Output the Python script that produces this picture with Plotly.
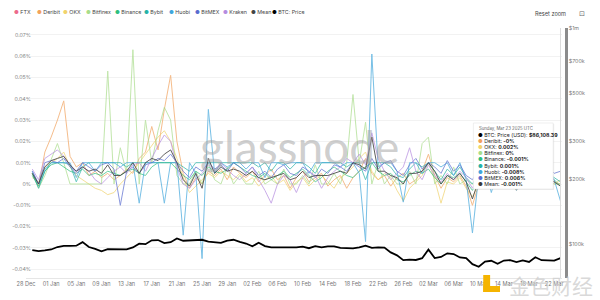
import plotly.graph_objects as go
import pandas as pd

# ---------------- data ----------------
dates = pd.date_range("2024-12-29", "2025-03-23", freq="D")

btc_price = [93.7, 92.8, 93.4, 94.4, 96.9, 98.1, 98.2, 98.3, 102.1, 96.9,
             95.0, 92.5, 94.7, 94.5, 94.5, 94.5, 96.5, 100.5, 99.9, 104.1,
             104.4, 101.1, 102.0, 106.1, 103.6, 103.9, 104.8, 104.7, 102.6, 102.0,
             101.3, 103.7, 104.7, 102.4, 100.6, 97.7, 101.4, 97.9, 96.6, 96.6,
             96.5, 96.5, 96.5, 97.4, 95.7, 97.9, 96.6, 97.5, 97.6, 96.1,
             95.8, 95.5, 96.6, 98.3, 96.1, 96.6, 96.3, 91.5, 88.7, 84.3,
             84.7, 84.4, 86.0, 94.3, 86.1, 87.2, 90.6, 89.9, 86.7, 86.2,
             80.7, 78.5, 82.9, 83.7, 81.1, 83.9, 84.3, 82.6, 84.1, 82.7,
             86.9, 84.2, 84.0, 83.8, 86.1]  # thousands USD

ftx = []  # no data in the window

deribit = [0.005, -0.001, 0.015, 0.022, 0.030, 0.039, 0.013, 0.008, 0.010, 0.004,
           0.006, 0.003, 0.005, 0.002, 0.004, 0.007, 0.005, 0.012, 0.015, 0.027,
           0.016, 0.035, 0.051, 0.020, 0.005, -0.002, 0.003, 0.000, 0.006, 0.004,
           0.007, 0.002, 0.008, 0.005, 0.003, 0.006, 0.001, 0.004, 0.007, 0.002,
           0.004, -0.002, 0.003, 0.006, 0.001, 0.003, 0.005, -0.001, 0.002, 0.004,
           -0.002, 0.003, 0.006, 0.012, 0.005, 0.002, 0.004, -0.001, 0.003, 0.005,
           0.000, 0.002, 0.006, 0.014, 0.004, -0.002, 0.003, 0.001, 0.004, -0.001,
           -0.010, 0.000, 0.003, -0.002, 0.001, 0.004, 0.000, -0.003, 0.002, 0.001,
           0.003, -0.001, 0.002, 0.001, 0.000]

okx = [0.003, 0.001, 0.008, 0.010, 0.012, 0.015, 0.008, 0.004, 0.002, 0.000,
       -0.002, -0.003, -0.005, -0.004, 0.000, 0.003, 0.006, 0.010, 0.014, 0.018,
       0.022, 0.025, 0.020, 0.012, 0.003, -0.004, -0.001, 0.002, 0.005, 0.003,
       0.006, 0.004, 0.002, 0.005, 0.001, 0.003, -0.001, 0.002, 0.004, 0.000,
       0.002, -0.003, 0.001, 0.003, -0.001, 0.002, 0.004, 0.001, -0.002, 0.003,
       0.005, 0.008, 0.012, 0.015, 0.006, 0.002, 0.005, 0.003, -0.003, -0.008,
       -0.002, 0.001, 0.004, 0.010, 0.002, -0.009, 0.001, 0.000, 0.003, -0.002,
       -0.006, 0.000, 0.002, -0.002, 0.000, 0.003, 0.001, -0.002, 0.001, 0.000,
       0.002, 0.000, 0.001, 0.000, 0.002]

bitfinex = [0.005, -0.002, 0.004, 0.012, 0.019, 0.010, 0.000, 0.000, 0.000, 0.000,
            0.000, 0.000, 0.053, 0.000, 0.017, 0.005, 0.063, 0.000, 0.030, 0.010,
            0.025, 0.036, 0.030, 0.004, 0.000, 0.000, 0.006, 0.000, 0.010, 0.002,
            0.000, 0.008, 0.000, 0.004, 0.000, 0.000, 0.006, 0.000, 0.002, 0.000,
            0.007, 0.000, 0.000, 0.004, 0.000, 0.009, 0.000, 0.000, 0.005, 0.000,
            0.010, 0.042, 0.010, 0.029, 0.000, 0.010, 0.000, 0.004, 0.000, 0.000,
            0.006, 0.000, 0.019, 0.022, 0.000, 0.004, 0.000, 0.008, 0.000, 0.002,
            0.000, 0.000, 0.006, 0.000, 0.003, 0.000, 0.000, 0.005, 0.000, 0.004,
            0.002, 0.000, 0.002, 0.000, 0.000]

binance = [0.004, -0.001, 0.006, 0.009, 0.010, 0.008, 0.006, 0.005, 0.007, 0.004,
           0.005, 0.004, 0.006, 0.005, 0.004, 0.006, 0.007, 0.005, 0.004, 0.008,
           0.010, 0.010, 0.010, 0.007, 0.004, 0.002, 0.006, 0.004, 0.008, 0.006,
           0.005, 0.007, 0.010, 0.008, 0.006, 0.004, 0.003, 0.005, 0.002, 0.004,
           0.006, 0.003, 0.005, 0.007, 0.004, 0.001, 0.003, 0.006, 0.008, 0.006,
           0.004, 0.003, 0.006, 0.008, 0.010, 0.006, 0.004, 0.005, 0.002, 0.001,
           0.004, 0.006, 0.005, 0.007, 0.003, 0.000, 0.004, 0.003, 0.005, 0.001,
           -0.003, 0.002, 0.004, 0.000, 0.003, 0.005, 0.002, -0.002, 0.003, 0.005,
           0.006, 0.001, 0.003, 0.002, -0.001]

bybit = [0.005, -0.002, 0.006, 0.010, 0.010, 0.010, 0.009, 0.001, 0.008, 0.010,
         0.010, 0.010, 0.010, 0.010, 0.010, 0.008, 0.010, 0.010, 0.010, 0.010,
         0.010, 0.010, 0.010, 0.010, 0.008, 0.006, 0.010, 0.010, 0.010, 0.010,
         0.010, 0.010, 0.010, 0.010, 0.010, 0.010, 0.008, 0.010, 0.006, 0.010,
         0.010, 0.007, 0.010, 0.010, 0.008, 0.005, 0.010, 0.010, 0.010, 0.010,
         0.008, 0.010, 0.010, 0.002, 0.010, 0.010, 0.010, 0.008, 0.004, 0.003,
         0.007, 0.010, 0.008, 0.010, 0.006, 0.002, 0.007, 0.004, 0.008, 0.003,
         0.000, 0.005, 0.007, 0.002, 0.006, 0.008, 0.003, 0.000, 0.005, 0.007,
         0.008, 0.002, 0.005, 0.003, 0.001]

huobi = [0.006, 0.000, 0.007, 0.010, 0.010, 0.010, 0.010, 0.003, 0.010, 0.010,
         0.006, 0.010, 0.010, 0.010, 0.008, 0.010, 0.010, -0.009, 0.010, 0.010,
         0.010, -0.009, 0.010, 0.010, -0.024, 0.010, 0.005, -0.035, 0.035, 0.005,
         0.010, 0.008, 0.010, 0.010, 0.007, 0.010, 0.010, 0.003, 0.010, 0.010,
         0.009, 0.010, 0.010, 0.010, 0.005, 0.010, 0.010, 0.010, 0.010, 0.008,
         0.010, 0.010, 0.005, -0.027, 0.061, 0.008, 0.010, 0.010, 0.006, -0.0085,
         0.010, 0.010, 0.005, 0.010, 0.010, 0.008, 0.010, 0.004, 0.010, 0.002,
         -0.023, 0.004, 0.008, -0.004, 0.006, 0.002, 0.008, -0.003, 0.005, 0.008,
         0.003, -0.002, 0.006, 0.002, -0.008]

bitmex = [0.006, 0.000, 0.010, 0.011, 0.010, 0.012, 0.008, 0.006, 0.010, 0.008,
          0.006, 0.009, 0.010, 0.007, -0.010, 0.006, 0.008, 0.005, 0.009, 0.010,
          0.012, 0.011, 0.014, 0.010, 0.006, 0.003, 0.008, 0.006, 0.010, 0.007,
          0.009, 0.006, 0.010, 0.008, 0.005, 0.008, 0.004, 0.006, 0.003, 0.007,
          0.009, 0.005, 0.004, 0.008, 0.006, 0.003, 0.007, 0.005, 0.009, 0.008,
          0.006, 0.010, 0.008, 0.006, 0.012, 0.007, 0.010, 0.011, 0.006, 0.004,
          0.009, 0.012, 0.007, 0.010, 0.008, 0.005, 0.011, 0.006, 0.009, 0.004,
          0.002, 0.007, 0.010, 0.004, 0.008, 0.006, 0.003, 0.001, 0.006, 0.009,
          0.007, 0.004, 0.008, 0.005, 0.006]

kraken = [0.007, 0.002, 0.012, 0.014, 0.016, 0.013, 0.009, 0.005, 0.008, 0.006,
          0.002, 0.000, 0.003, 0.006, 0.008, 0.005, 0.009, 0.010, 0.006, 0.012,
          0.018, 0.023, 0.020, 0.008, 0.000, -0.002, 0.002, 0.005, 0.009, 0.006,
          0.010, 0.007, 0.004, 0.002, 0.005, 0.008, 0.002, -0.003, -0.009, 0.000,
          0.004, 0.002, -0.004, 0.003, 0.006, 0.004, -0.002, 0.003, 0.006, 0.008,
          0.012, 0.010, 0.014, 0.009, 0.024, 0.012, 0.006, 0.002, 0.005, 0.008,
          0.017, 0.006, 0.002, 0.009, 0.004, 0.001, 0.005, 0.002, 0.006, 0.003,
          -0.002, 0.004, 0.007, 0.002, 0.005, 0.003, -0.001, 0.002, 0.004, 0.006,
          0.003, 0.001, 0.004, 0.002]

mean = [0.005, 0.000, 0.008, 0.011, 0.012, 0.013, 0.009, 0.006, 0.008, 0.006,
        0.007, 0.005, 0.009, 0.004, 0.004, 0.006, 0.010, 0.005, 0.010, 0.012,
        0.011, 0.014, 0.016, 0.010, 0.002, -0.001, 0.005, -0.002, 0.012, 0.005,
        0.008, 0.006, 0.007, 0.006, 0.004, 0.006, 0.003, 0.002, 0.003, 0.004,
        0.005, 0.002, 0.003, 0.006, 0.003, 0.004, 0.004, 0.004, 0.005, 0.006,
        0.005, 0.010, 0.009, 0.007, 0.022, 0.006, 0.006, 0.004, 0.003, 0.000,
        0.005, 0.005, 0.006, 0.010, 0.006, 0.000, 0.004, 0.002, 0.005, 0.001,
        -0.007, 0.002, 0.005, -0.001, 0.003, 0.004, 0.002, -0.001, 0.003, 0.004,
        0.004, 0.000, 0.003, 0.001, -0.001]

series_names = ["FTX", "Deribit", "OKX", "Bitfinex", "Binance", "Bybit",
                "Huobi", "BitMEX", "Kraken", "Mean", "BTC: Price"]
series_colors = ["#ec6a8c", "#f2a25c", "#f1d36b", "#a9dd8a", "#2fbf7e", "#26b3a7",
                 "#3fa6dc", "#5a6ccf", "#b58be0", "#444444", "#000000"]
series_data = [ftx, deribit, okx, bitfinex, binance, bybit, huobi, bitmex, kraken, mean]

left_ticks = [-0.04, -0.03, -0.02, -0.01, 0.0, 0.01, 0.02, 0.03, 0.04, 0.05, 0.06, 0.07]
left_ticktext = ["-0.04%", "-0.03%", "-0.02%", "-0.01%", "0%", "0.01%", "0.02%",
                 "0.03%", "0.04%", "0.05%", "0.06%", "0.07%"]
right_ticks = [100000, 200000, 300000, 500000, 700000, 1000000]
right_ticktext = ["$100k", "$200k", "$300k", "$500k", "$700k", "$1m"]

tooltip_title = "Sunday, Mar 23 2025 UTC"
tooltip_rows = [("BTC: Price (USD)", "$86,108.39", "#000000"),
                ("Deribit", "-0%", "#f2a25c"),
                ("OKX", "0.002%", "#f1d36b"),
                ("Bitfinex", "0%", "#a9dd8a"),
                ("Binance", "-0.001%", "#2fbf7e"),
                ("Bybit", "0.001%", "#26b3a7"),
                ("Huobi", "-0.008%", "#3fa6dc"),
                ("BitMEX", "0.006%", "#5a6ccf"),
                ("Mean", "-0.001%", "#3a3a3a")]

# ---------------- layout geometry ----------------
W, H = 600, 300
L, T, R, B = 18, 28, 34, 22
PW, PH = W - L - R, H - T - B


def px(x):
    return (x - L) / PW


def py(y):
    return (H - B - y) / PH


FONT = "Inter"

fig = go.Figure()

for name, color, vals in zip(series_names[:-1], series_colors[:-1], series_data):
    n = len(vals)
    is_mean = name == "Mean"
    fig.add_trace(go.Scatter(
        x=dates[:n], y=vals, name=name, mode="lines",
        line=dict(color=color, width=0.9 if is_mean else 1),
        opacity=0.95 if is_mean else 0.7,
        hoverinfo="skip", showlegend=False, yaxis="y"))

fig.add_trace(go.Scatter(
    x=dates, y=[v * 1000 for v in btc_price], name="BTC: Price", mode="lines",
    line=dict(color="#000000", width=1.8), hoverinfo="skip", showlegend=False,
    yaxis="y2"))

fig.update_layout(
    width=W, height=H,
    margin=dict(l=L, r=R, t=T, b=B),
    paper_bgcolor="white", plot_bgcolor="white",
    font=dict(family=FONT, size=6, color="#777"),
    showlegend=False,
    xaxis=dict(
        type="date", domain=[0, (PW - 4) / PW],
        range=["2024-12-28", "2025-03-23 06:00"],
        tick0="2024-12-28", dtick=4 * 86400000, tickformat="%d %b",
        showgrid=False, showline=True, linecolor="#e6e6e6", linewidth=1,
        ticks="", tickfont=dict(size=5.6, color="#777"), zeroline=False,
        fixedrange=True),
    yaxis=dict(
        range=[-0.0441, 0.0732], tickvals=left_ticks, ticktext=left_ticktext,
        showgrid=True, gridcolor="#f2f2f2", gridwidth=1, zeroline=False,
        tickfont=dict(size=5.3, color="#888"), ticks="", showline=False,
        ticklabelstandoff=-6),
    yaxis2=dict(
        type="log", range=[4.843, 6.0], overlaying="y", side="right",
        anchor="free", position=1.0, tickvals=right_ticks, ticktext=right_ticktext,
        showgrid=False, zeroline=False, showline=True, linecolor="#8c8c8c",
        linewidth=2.5, ticks="", tickfont=dict(size=5.3, color="#777")),
)

shapes = []
annotations = []

# watermark
annotations.append(dict(
    x=px(296), y=py(146), xref="paper", yref="paper", text="glassnode",
    showarrow=False, font=dict(family="Lato", size=46, color="rgba(165,165,165,0.55)"),
    xanchor="center", yanchor="middle"))

# crosshair at last point
shapes.append(dict(type="line", xref="x", yref="paper", x0=dates[-1], x1=dates[-1],
                   y0=0, y1=1, line=dict(color="#dcdcdc", width=1)))

# legend (custom, dots)
legend_x = [4, 27, 54, 77, 106, 136, 161, 187, 216, 244, 266]
for xpos, name, color in zip(legend_x, series_names, series_colors):
    annotations.append(dict(
        x=px(xpos), y=py(12), xref="paper", yref="paper", showarrow=False,
        xanchor="left", yanchor="middle",
        text=f"<span style='color:{color}'>●</span> {name}",
        font=dict(family=FONT, size=5.3, color="#444")))

# reset zoom button + icon
annotations.append(dict(
    x=px(550), y=py(14), xref="paper", yref="paper", showarrow=False,
    xanchor="center", yanchor="middle", text="Reset zoom",
    font=dict(family=FONT, size=5.6, color="#444")))
annotations.append(dict(
    x=px(582), y=py(14), xref="paper", yref="paper", showarrow=False,
    xanchor="center", yanchor="middle", text="⊡",
    font=dict(family="DejaVu Sans", size=7, color="#666")))

# tooltip box
bx0, bx1, by0, by1 = 472, 553, 123, 189
shapes.append(dict(type="rect", xref="paper", yref="paper",
                   x0=px(bx0 + 1), x1=px(bx1 + 1), y0=py(by0 + 1), y1=py(by1 + 1),
                   fillcolor="rgba(0,0,0,0.08)", line=dict(width=0), layer="above"))
shapes.append(dict(type="rect", xref="paper", yref="paper",
                   x0=px(bx0), x1=px(bx1), y0=py(by0), y1=py(by1),
                   fillcolor="white", line=dict(color="#e4e4e4", width=0.6), layer="above"))
annotations.append(dict(
    x=px(bx0 + 4), y=py(by0 + 5), xref="paper", yref="paper", showarrow=False,
    xanchor="left", yanchor="middle", text=tooltip_title,
    font=dict(family=FONT, size=4.3, color="#666")))
for i, (lab, val, col) in enumerate(tooltip_rows):
    annotations.append(dict(
        x=px(bx0 + 3), y=py(by0 + 12 + i * 6.1), xref="paper", yref="paper",
        showarrow=False, xanchor="left", yanchor="middle",
        text=f"<span style='color:{col}'>●</span> {lab}: <b>{val}</b>",
        font=dict(family=FONT, size=5.2, color="#222")))

# bottom-right source watermark
shapes.append(dict(type="rect", xref="paper", yref="paper",
                   x0=px(482), x1=px(489), y0=py(275), y1=py(292),
                   fillcolor="#f5b400", line=dict(width=0), layer="above"))
shapes.append(dict(type="rect", xref="paper", yref="paper",
                   x0=px(482), x1=px(499), y0=py(286), y1=py(292),
                   fillcolor="#f5b400", line=dict(width=0), layer="above"))
annotations.append(dict(
    x=px(551), y=py(285), xref="paper", yref="paper", showarrow=False,
    xanchor="center", yanchor="middle", text="金色财经",
    font=dict(family="Noto Sans CJK SC", size=21, color="rgba(205,205,205,0.75)")))

fig.update_layout(shapes=shapes, annotations=annotations)
fig.write_html("out.html")
